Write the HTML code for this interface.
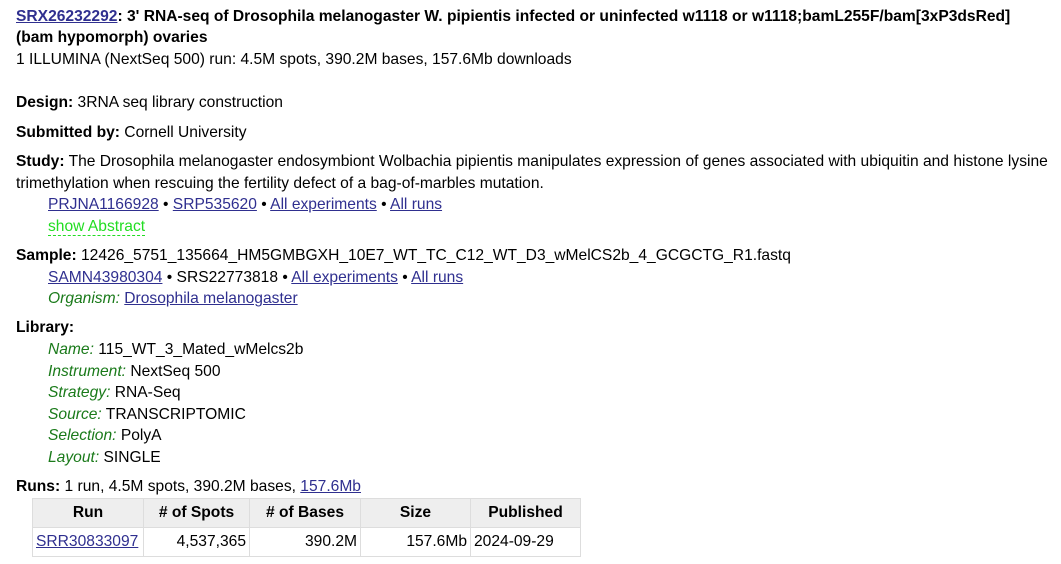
<!DOCTYPE html>
<html><head><meta charset="utf-8"><style>
body{margin:0;width:1061px;height:564px;background:#fff;font-family:"Liberation Sans",sans-serif;font-size:15.6px;color:#000;position:relative;overflow:hidden}
.l{position:absolute;left:16px;line-height:20px;white-space:nowrap}
.i{left:48px}
a{color:#2f2f8f;text-decoration:underline}
b{font-weight:bold}
em{color:#1a7a1a;font-style:italic}
.abs{color:#22dd22;border-bottom:1px dashed #22dd22;text-decoration:none}
table{position:absolute;left:32px;top:498px;border-collapse:collapse;font-size:15.6px;table-layout:fixed;width:548px}
td,th{border:1px solid #ddd;padding:0 3px;height:28px;white-space:nowrap;overflow:hidden}
th{background:#eee;font-weight:bold;text-align:center}
td{text-align:right}
</style></head><body>
<div class="l" style="top:7px"><b><a href="#">SRX26232292</a>: 3' RNA-seq of Drosophila melanogaster W. pipientis infected or uninfected w1118 or w1118;bamL255F/bam[3xP3dsRed]</b></div>
<div class="l" style="top:28px"><b>(bam hypomorph) ovaries</b></div>
<div class="l" style="top:50px">1 ILLUMINA (NextSeq 500) run: 4.5M spots, 390.2M bases, 157.6Mb downloads</div>
<div class="l" style="top:93px"><b>Design:</b> 3RNA seq library construction</div>
<div class="l" style="top:123px"><b>Submitted by:</b> Cornell University</div>
<div class="l" style="top:152px"><b>Study:</b> The Drosophila melanogaster endosymbiont Wolbachia pipientis manipulates expression of genes associated with ubiquitin and histone lysine</div>
<div class="l" style="top:174px">trimethylation when rescuing the fertility defect of a bag-of-marbles mutation.</div>
<div class="l i" style="top:195px"><a href="#">PRJNA1166928</a> • <a href="#">SRP535620</a> • <a href="#">All experiments</a> • <a href="#">All runs</a></div>
<div class="l i" style="top:217px"><span class="abs">show Abstract</span></div>
<div class="l" style="top:246px"><b>Sample:</b> 12426_5751_135664_HM5GMBGXH_10E7_WT_TC_C12_WT_D3_wMelCS2b_4_GCGCTG_R1.fastq</div>
<div class="l i" style="top:268px"><a href="#">SAMN43980304</a> • SRS22773818 • <a href="#">All experiments</a> • <a href="#">All runs</a></div>
<div class="l i" style="top:289px"><em>Organism:</em> <a href="#">Drosophila melanogaster</a></div>
<div class="l" style="top:318px"><b>Library:</b></div>
<div class="l i" style="top:340px"><em>Name:</em> 115_WT_3_Mated_wMelcs2b</div>
<div class="l i" style="top:362px"><em>Instrument:</em> NextSeq 500</div>
<div class="l i" style="top:383px"><em>Strategy:</em> RNA-Seq</div>
<div class="l i" style="top:405px"><em>Source:</em> TRANSCRIPTOMIC</div>
<div class="l i" style="top:426px"><em>Selection:</em> PolyA</div>
<div class="l i" style="top:448px"><em>Layout:</em> SINGLE</div>
<div class="l" style="top:477px"><b>Runs:</b> 1 run, 4.5M spots, 390.2M bases, <a href="#">157.6Mb</a></div>
<table>
<colgroup><col style="width:111px"><col style="width:106px"><col style="width:111px"><col style="width:110px"><col style="width:110px"></colgroup>
<tr><th>Run</th><th># of Spots</th><th># of Bases</th><th>Size</th><th>Published</th></tr>
<tr><td style="text-align:left"><a href="#">SRR30833097</a></td><td>4,537,365</td><td>390.2M</td><td>157.6Mb</td><td style="text-align:left">2024-09-29</td></tr>
</table>
</body></html>
